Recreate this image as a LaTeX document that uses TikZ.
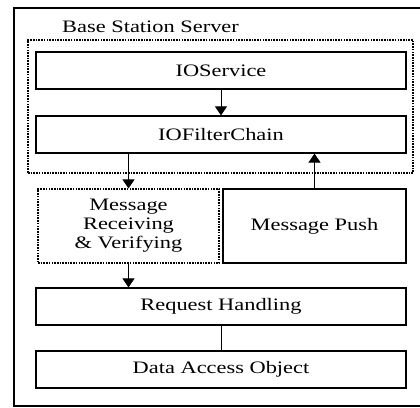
\documentclass[tikz,border=0pt]{standalone}
\usepackage{fontspec}
\setmainfont{Liberation Serif}
\usetikzlibrary{arrows.meta}
\newcommand{\stx}[1]{\scalebox{1.28}[1]{#1}}
\begin{document}
\begin{tikzpicture}[x=1pt,y=-1pt,
  box/.style={draw,line width=1.2pt,rectangle,inner sep=0pt,minimum width=370pt,minimum height=37pt,align=center},
  dotbox/.style={draw,line width=1.2pt,dash pattern=on 1.6pt off 1.1pt,rectangle,inner sep=0pt},
  arr/.style={line width=0.9pt,-{Triangle[width=12pt,length=9pt]}},
  lbl/.style={font=\fontsize{17.5}{19}\selectfont}]
\useasboundingbox (0,0) rectangle (420,407);
\clip (0,0) rectangle (420,407);
\draw[line width=1.2pt] (14,8) rectangle (430,406);
\node[dotbox,minimum width=385pt,minimum height=133pt] (bss) at (220.5,106.5) {};
\node[lbl,anchor=west,inner sep=0pt] (bsst) at (62,26.5) {\stx{Base Station Server}};
\node[box,lbl] (ios) at (221,70.5) {\stx{IOService}};
\node[box,lbl] (iof) at (221,134.5) {\stx{IOFilterChain}};
\node[dotbox,lbl,minimum width=181pt,minimum height=74pt] (mr) at (128.5,226) {\stx{\begin{tabular}{@{}c@{}}Message\\Receiving\\\& Verifying\end{tabular}}};
\node[box,lbl,minimum width=183pt,minimum height=74pt] (mp) at (314.5,226) {\stx{Message Push}};
\node[box,lbl] (rh) at (221,306.5) {\stx{Request Handling}};
\node[box,lbl] (dao) at (221,369.5) {\stx{Data Access Object}};
\draw[arr] (ios.south) -- (iof.north);
\draw[arr] (mr.north |- iof.south) -- (mr.north);
\draw[arr] (mp.north) -- (mp.north |- iof.south);
\draw[arr] (mr.south) -- (mr.south |- rh.north);
\draw[line width=0.9pt] (rh.south) -- (dao.north);
\end{tikzpicture}
\end{document}
